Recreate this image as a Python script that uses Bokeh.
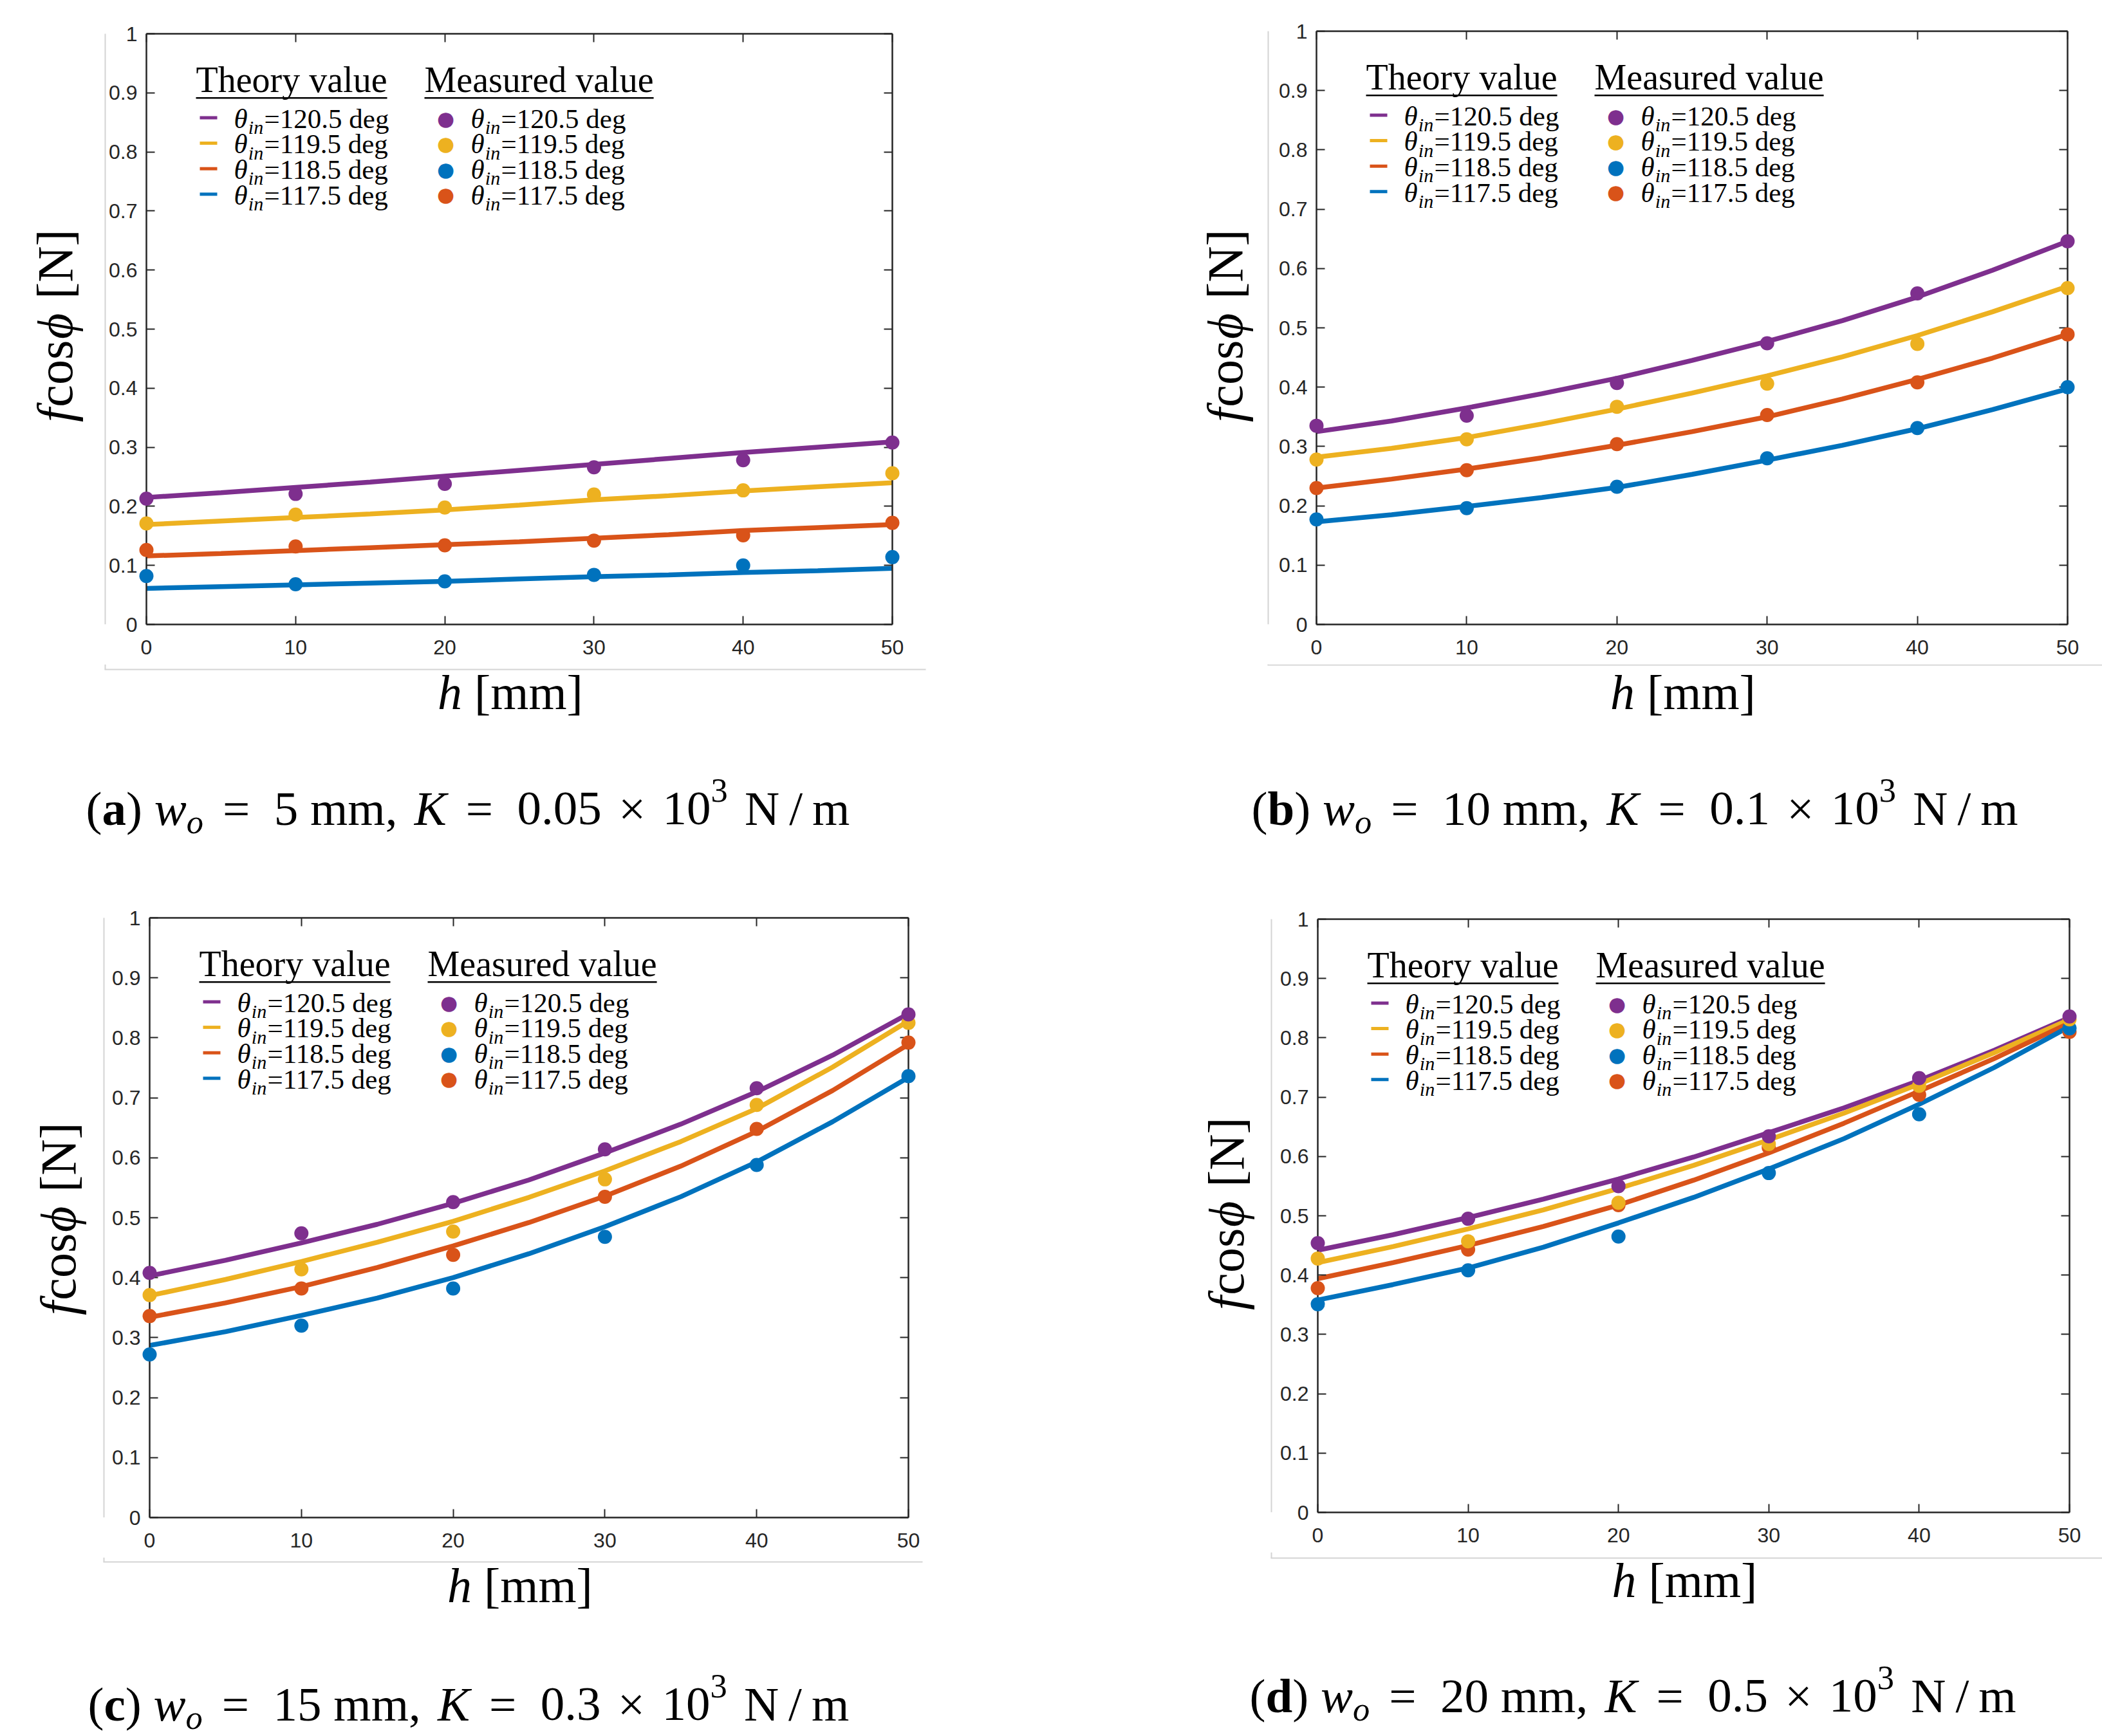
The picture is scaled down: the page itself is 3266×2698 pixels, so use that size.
import math

from bokeh.plotting import figure
from bokeh.layouts import column, row
from bokeh.models import Range1d, FixedTicker, LinearAxis, Label, BoxAnnotation
from bokeh.embed import file_html
from bokeh.resources import INLINE

#-------------- data ----------#
h_meas = [0, 10, 20, 30, 40, 50]
h_theory = [0, 5, 10, 15, 20, 25, 30, 35, 40, 45, 50]

y_ticks = [0, 0.1, 0.2, 0.3, 0.4, 0.5, 0.6, 0.7, 0.8, 0.9, 1]
y_tick_labels = ["0", "0.1", "0.2", "0.3", "0.4", "0.5", "0.6", "0.7", "0.8", "0.9", "1"]
x_ticks = [0, 10, 20, 30, 40, 50]
x_tick_labels = ["0", "10", "20", "30", "40", "50"]

theta_names = ["120.5", "119.5", "118.5", "117.5"]
panel_letters = ["a", "b", "c", "d"]
panel_wo = ["5", "10", "15", "20"]
panel_K = ["0.05", "0.1", "0.3", "0.5"]

# (a) w_o = 5 mm
a_theory_120_5 = [0.215, 0.223, 0.232, 0.241, 0.251, 0.261, 0.271, 0.281, 0.291, 0.300, 0.309]
a_theory_119_5 = [0.169, 0.175, 0.181, 0.187, 0.194, 0.202, 0.211, 0.218, 0.226, 0.233, 0.240]
a_theory_118_5 = [0.116, 0.120, 0.125, 0.130, 0.135, 0.140, 0.146, 0.152, 0.159, 0.164, 0.169]
a_theory_117_5 = [0.061, 0.064, 0.067, 0.070, 0.073, 0.077, 0.081, 0.084, 0.088, 0.091, 0.095]
a_meas_120_5 = [0.213, 0.221, 0.238, 0.266, 0.278, 0.308]
a_meas_119_5 = [0.171, 0.186, 0.198, 0.220, 0.227, 0.256]
a_meas_118_5 = [0.082, 0.068, 0.073, 0.084, 0.100, 0.114]
a_meas_117_5 = [0.126, 0.132, 0.134, 0.142, 0.151, 0.172]

# (b) w_o = 10 mm
b_theory_120_5 = [0.325, 0.343, 0.365, 0.389, 0.415, 0.445, 0.477, 0.512, 0.552, 0.597, 0.646]
b_theory_119_5 = [0.282, 0.297, 0.315, 0.338, 0.363, 0.390, 0.419, 0.451, 0.487, 0.527, 0.570]
b_theory_118_5 = [0.230, 0.245, 0.262, 0.281, 0.302, 0.325, 0.350, 0.380, 0.413, 0.449, 0.489]
b_theory_117_5 = [0.173, 0.185, 0.199, 0.214, 0.231, 0.253, 0.277, 0.302, 0.330, 0.362, 0.397]
b_meas_120_5 = [0.335, 0.352, 0.407, 0.474, 0.558, 0.646]
b_meas_119_5 = [0.278, 0.312, 0.367, 0.406, 0.473, 0.567]
b_meas_118_5 = [0.177, 0.196, 0.232, 0.280, 0.331, 0.400]
b_meas_117_5 = [0.230, 0.260, 0.304, 0.353, 0.408, 0.489]

# (c) w_o = 15 mm
c_theory_120_5 = [0.403, 0.429, 0.458, 0.489, 0.524, 0.563, 0.608, 0.656, 0.710, 0.771, 0.840]
c_theory_119_5 = [0.370, 0.397, 0.427, 0.459, 0.494, 0.534, 0.578, 0.627, 0.682, 0.751, 0.828]
c_theory_118_5 = [0.334, 0.358, 0.385, 0.417, 0.453, 0.492, 0.536, 0.586, 0.644, 0.712, 0.789]
c_theory_117_5 = [0.287, 0.310, 0.337, 0.366, 0.400, 0.440, 0.485, 0.535, 0.593, 0.660, 0.734]
c_meas_120_5 = [0.408, 0.474, 0.526, 0.614, 0.716, 0.839]
c_meas_119_5 = [0.371, 0.414, 0.477, 0.564, 0.688, 0.825]
c_meas_118_5 = [0.272, 0.320, 0.382, 0.468, 0.588, 0.736]
c_meas_117_5 = [0.336, 0.382, 0.438, 0.535, 0.648, 0.792]

# (d) w_o = 20 mm
d_theory_120_5 = [0.442, 0.468, 0.497, 0.528, 0.562, 0.599, 0.640, 0.682, 0.728, 0.779, 0.834]
d_theory_119_5 = [0.421, 0.448, 0.478, 0.510, 0.546, 0.585, 0.628, 0.673, 0.722, 0.775, 0.831]
d_theory_118_5 = [0.394, 0.421, 0.450, 0.482, 0.518, 0.560, 0.606, 0.656, 0.710, 0.765, 0.825]
d_theory_117_5 = [0.358, 0.384, 0.412, 0.447, 0.488, 0.531, 0.579, 0.630, 0.688, 0.750, 0.819]
d_meas_120_5 = [0.454, 0.495, 0.550, 0.634, 0.732, 0.836]
d_meas_119_5 = [0.428, 0.457, 0.522, 0.621, 0.719, 0.831]
d_meas_118_5 = [0.351, 0.408, 0.465, 0.572, 0.671, 0.816]
d_meas_117_5 = [0.378, 0.443, 0.518, 0.615, 0.704, 0.810]
#---------------------------------------------------#

PURPLE, YELLOW, ORANGE, BLUE = "#7E2F8E", "#EDB120", "#D95319", "#0072BD"
theory_colors = [PURPLE, YELLOW, ORANGE, BLUE]
meas_colors = [PURPLE, YELLOW, BLUE, ORANGE]       # as the legend of the figure says
SERIF = "Liberation Serif"
SANS = "Liberation Sans"
INK = "#262626"
EDGE = "#d4d4d4"
ML, MB = 62, 62          # border of the axes figure kept for the tick labels

# Times metrics (em) for laying out mixed italic / sub / sup text
REG = {' ': .25, '(': .333, ')': .333, '[': .333, ']': .333, '=': .564, '.': .25, ',': .25,
       '/': .278, '×': .564, 'c': .444, 'o': .5, 's': .389, 'm': .778, 'N': .722, 'd': .5,
       'e': .444, 'g': .5, 'T': .611, 'h': .5, 'r': .333, 'y': .5, 'v': .5, 'a': .444,
       'l': .278, 'u': .5, 'M': .889}
ITA = {'h': .5, 'f': .278, 'w': .667, 'o': .5, 'K': .667, 'i': .278, 'n': .5, 'θ': .5, 'ϕ': .55}
BOLD = {'a': .5, 'b': .556, 'c': .444, 'd': .556}


def em(s, style):
    tab = ITA if style == "italic" else BOLD if style == "bold" else REG
    return sum(tab.get(ch, REG.get(ch, .5)) for ch in s)


def rich(p, x, y, parts, size, angle=0.0):
    # parts: (text, style, relative size, baseline shift in em, gap before in em)
    pos = 0.0
    for txt, style, rel, shift, gap in parts:
        pos += gap * size
        fs = size * rel
        if angle == 0:
            lx, ly = x + pos, y + shift * size + 0.4 * fs
        else:
            lx, ly = x - shift * size - 0.4 * fs, y + pos - 0.8 * fs
        p.add_layout(Label(x=lx, y=ly, x_units="screen", y_units="screen", text=txt, angle=angle,
                           text_font=SERIF, text_font_size="%.1fpx" % fs, text_font_style=style,
                           text_color="black", text_align="left", text_baseline="alphabetic"))
        pos += em(txt, style) * fs
    return pos


def box(p, left, right, bottom, top, color):
    p.add_layout(BoxAnnotation(left=left, right=right, bottom=bottom, top=top,
                               left_units="screen", right_units="screen",
                               bottom_units="screen", top_units="screen",
                               fill_color=color, fill_alpha=1.0, line_color=None))


def style_axis(ax, ticks, labels, standoff, show_labels=True):
    ax.ticker = FixedTicker(ticks=ticks)
    ax.major_label_overrides = {t: (l if show_labels else "") for t, l in zip(ticks, labels)}
    ax.major_tick_in = 13
    ax.major_tick_out = 0
    ax.minor_tick_in = 0
    ax.minor_tick_out = 0
    ax.axis_line_color = INK
    ax.axis_line_width = 2.5
    ax.major_tick_line_color = INK
    ax.major_tick_line_width = 2
    ax.major_label_text_font = SANS
    ax.major_label_text_font_size = "32px" if show_labels else "1px"
    ax.major_label_text_color = INK
    ax.major_label_standoff = standoff


def strip(w, h):
    s = figure(width=w, height=h, x_range=Range1d(0, 1), y_range=Range1d(0, 1),
               output_backend="svg", toolbar_location=None,
               x_axis_location=None, y_axis_location=None,
               min_border_left=0, min_border_right=0, min_border_top=0, min_border_bottom=0)
    s.grid.visible = False
    s.outline_line_color = None
    return s


def make_panel(k, theory, meas, W, H, bl, br, bt, bb, cap_dx, cap_dy, gray):
    fw, fh = W - bl - br, H - bt - bb
    MH = bt + fh + MB
    SL = bl - ML
    BH = H - MH

    p = figure(width=W - SL, height=MH, x_range=Range1d(0, 50), y_range=Range1d(0, 1),
               output_backend="svg", toolbar_location=None,
               min_border_left=ML, min_border_right=br, min_border_top=bt, min_border_bottom=MB)
    p.grid.visible = False
    p.outline_line_color = None
    p.background_fill_color = "white"
    p.border_fill_color = "white"

    style_axis(p.xaxis[0], x_ticks, x_tick_labels, 24)
    style_axis(p.yaxis[0], y_ticks, y_tick_labels, 14)
    top_ax = LinearAxis()
    style_axis(top_ax, x_ticks, x_tick_labels, 0, False)
    p.add_layout(top_ax, "above")
    right_ax = LinearAxis()
    style_axis(right_ax, y_ticks, y_tick_labels, 0, False)
    p.add_layout(right_ax, "right")

    for ys, c in zip(theory, theory_colors):
        p.line(h_theory, ys, line_color=c, line_width=7.5)
    for idx in [3, 2, 1, 0]:
        p.scatter(h_meas, meas[idx], size=22, fill_color=meas_colors[idx], line_color=None,
                  level="overlay")

    # legend, two columns with underlined headings
    rich(p, 77, fh - 94, [("Theory value", "normal", 1, 0, 0)], 56)
    box(p, 77, 77 + em("Theory value", "normal") * 56, fh - 101, fh - 98.5, "black")
    rich(p, 432, fh - 94, [("Measured value", "normal", 1, 0, 0)], 56)
    box(p, 432, 432 + em("Measured value", "normal") * 56, fh - 101, fh - 98.5, "black")
    for i, name in enumerate(theta_names):
        base = fh - (149 + 39.6 * i)
        entry = [("θ", "italic", 1, 0, 0), ("in", "italic", 0.7, -0.2, 0.02),
                 ("=" + name + " deg", "normal", 1, 0, 0.03)]
        box(p, 83, 110, base + 16, base + 21, theory_colors[i])
        rich(p, 136, base, entry, 43)
        p.add_layout(Label(x=465, y=base + 18, x_units="screen", y_units="screen", text="●",
                           text_font="DejaVu Sans", text_font_size="31px",
                           text_color=meas_colors[i], text_align="center", text_baseline="middle"))
        rich(p, 504, base, entry, 43)

    # left strip: y title and the light edge of the exported figure
    gx, gb, gt, gr = gray
    left = strip(SL, MH)
    box(left, bl + gx - 1, bl + gx + 1, 0, MH - gt, EDGE)
    rich(left, bl - 111, MB + 315, [("f", "italic", 1, 0, 0), ("cos", "normal", 1, 0, 0.02),
                                    ("ϕ", "italic", 1, 0, 0.02), ("[N]", "normal", 1, 0, 0.25)],
         78, angle=math.pi / 2)

    # bottom strip: x title, caption and the light edge
    bottom = strip(W, BH)
    ge = BH - max(gb - MB, 1)
    box(bottom, bl + gx - 1, bl + gx + 1, ge, BH, EDGE)
    box(bottom, bl + gx - 1, bl + gr, ge - 1, ge + 1, EDGE)
    rich(bottom, bl + fw / 2 - 127, BH - (136 - MB),
         [("h", "italic", 1, 0, 0), ("[mm]", "normal", 1, 0, 0.25)], 76)
    cap = [("(", "normal", 1, 0, 0), (panel_letters[k], "bold", 1, 0, 0), (")", "normal", 1, 0, 0),
           ("w", "italic", 1, 0, 0.25), ("o", "italic", 0.7, -0.15, 0),
           ("=", "normal", 1, 0, 0.4), (panel_wo[k] + " mm,", "normal", 1, 0, 0.5),
           ("K", "italic", 1, 0, 0.35), ("=", "normal", 1, 0, 0.4),
           (panel_K[k], "normal", 1, 0, 0.5), ("×", "normal", 1, 0, 0.35),
           ("10", "normal", 1, 0, 0.35), ("3", "normal", 0.7, 0.5, 0),
           ("N", "normal", 1, 0, 0.35), ("/", "normal", 1, 0, 0.2), ("m", "normal", 1, 0, 0.2)]
    rich(bottom, bl + cap_dx, BH - (cap_dy - MB), cap, 75)

    return column(row(left, p), bottom)


pa = make_panel(0, [a_theory_120_5, a_theory_119_5, a_theory_118_5, a_theory_117_5],
                [a_meas_120_5, a_meas_119_5, a_meas_118_5, a_meas_117_5],
                1648, 1360, 227, 262, 52, 390, -94, 316, (-64, 70, 15, 1211))
pb = make_panel(1, [b_theory_120_5, b_theory_119_5, b_theory_118_5, b_theory_117_5],
                [b_meas_120_5, b_meas_119_5, b_meas_118_5, b_meas_117_5],
                1618, 1360, 397, 54, 48, 390, -101, 316, (-75, 63, 14, 1221))
pc = make_panel(2, [c_theory_120_5, c_theory_119_5, c_theory_118_5, c_theory_117_5],
                [c_meas_120_5, c_meas_119_5, c_meas_118_5, c_meas_117_5],
                1648, 1338, 232, 237, 66, 340, -96, 320, (-71, 69, 28, 1201))
pd = make_panel(3, [d_theory_120_5, d_theory_119_5, d_theory_118_5, d_theory_117_5],
                [d_meas_120_5, d_meas_119_5, d_meas_118_5, d_meas_117_5],
                1618, 1338, 399, 51, 68, 348, -106, 315, (-72, 71, 7, 1219))

layout = column(row(pa, pb), row(pc, pd))
open("out.html", "w").write(file_html(layout, INLINE))
